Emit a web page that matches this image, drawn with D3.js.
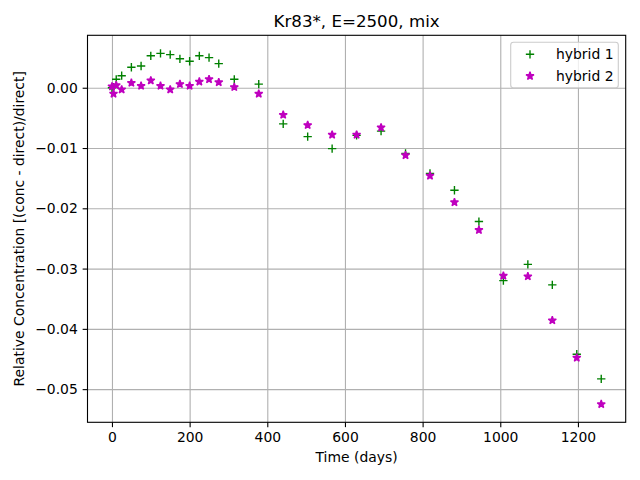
<!DOCTYPE html>
<html>
<head>
<meta charset="utf-8">
<script src="https://cdn.jsdelivr.net/npm/d3@7"></script>
<style>
  body { margin: 0; background: #ffffff; }
  svg { font-family: "DejaVu Sans", sans-serif; }
</style>
</head>
<body>
<svg id="chart" width="640" height="480"></svg>
<script>
    // data
    const days = [0, 4, 11, 25, 50, 75, 100, 125, 150, 175, 200, 225, 250, 275, 315,
        378, 441, 504, 567, 630, 693, 756, 819, 882, 945, 1008, 1071, 1134, 1197, 1260];
    const hybrid1 = [0.0000, 0.0001, 0.0014, 0.0020, 0.0034, 0.0036, 0.0053, 0.0057, 0.0055, 0.0048,
        0.0044, 0.0053, 0.0050, 0.0040, 0.0014, 0.0006, -0.0060, -0.0081, -0.0101, -0.0079,
        -0.0072, -0.0109, -0.0142, -0.0170, -0.0222, -0.0320, -0.0293, -0.0327, -0.0442, -0.0483];
    const hybrid2 = [0.0002, -0.0010, 0.0004, -0.0003, 0.0008, 0.0003, 0.0012, 0.0003, -0.0003, 0.0006,
        0.0003, 0.0010, 0.0014, 0.0009, 0.0001, -0.0010, -0.0045, -0.0062, -0.0078, -0.0078,
        -0.0066, -0.0112, -0.0146, -0.0190, -0.0236, -0.0312, -0.0313, -0.0386, -0.0448, -0.0525];
    const xTicks = [0, 200, 400, 600, 800, 1000, 1200];
    const yTicks = [0, -0.01, -0.02, -0.03, -0.04, -0.05];
    const seriesNames = ["hybrid 1", "hybrid 2"];

    const green = "#008000";
    const magenta = "#bf00bf";
    const gridColor = "#b0b0b0";
    const fontSize = "13.9px";

    const axLeft = 87.5, axRight = 625.7, axTop = 35.3, axBottom = 422.3;
    const tickLen = 4.86;

    const svg = d3.select("#chart");
    svg.append("rect").attr("width", 640).attr("height", 480).attr("fill", "#ffffff");

    const x = d3.scaleLinear().domain([-63, 1323]).range([axLeft, axRight]);
    const y = d3.scaleLinear().domain([-0.0555, 0.0087]).range([axBottom, axTop]);

    // grid
    svg.append("g")
        .attr("transform", "translate(0," + axBottom + ")")
        .call(d3.axisBottom(x).tickValues(xTicks).tickSize(-(axBottom - axTop)).tickFormat(""))
        .call(g => g.select(".domain").remove())
        .selectAll("line").attr("stroke", gridColor).attr("stroke-width", 1.1);
    svg.append("g")
        .attr("transform", "translate(" + axLeft + ",0)")
        .call(d3.axisLeft(y).tickValues(yTicks).tickSize(-(axRight - axLeft)).tickFormat(""))
        .call(g => g.select(".domain").remove())
        .selectAll("line").attr("stroke", gridColor).attr("stroke-width", 1.1);

    // hybrid 1 : green plus markers
    svg.append("g").selectAll("path")
        .data(days.map((d, i) => [d, hybrid1[i]]))
        .join("path")
        .attr("transform", d => "translate(" + x(d[0]) + "," + y(d[1]) + ")")
        .attr("d", "M-4.17,0H4.17M0,-4.17V4.17")
        .attr("fill", "none")
        .attr("stroke", green)
        .attr("stroke-width", 1.39);

    // hybrid 2 : magenta star markers (bevel joins like matplotlib '*')
    const star = d3.symbol().type(d3.symbolStar).size(19.5);
    svg.append("g").selectAll("path")
        .data(days.map((d, i) => [d, hybrid2[i]]))
        .join("path")
        .attr("transform", d => "translate(" + x(d[0]) + "," + y(d[1]) + ")")
        .attr("d", star)
        .attr("fill", magenta)
        .attr("stroke", magenta)
        .attr("stroke-width", 1.39)
        .attr("stroke-linejoin", "bevel");

    // axes
    const xAxis = svg.append("g")
        .attr("transform", "translate(0," + axBottom + ")")
        .call(d3.axisBottom(x).tickValues(xTicks).tickSize(tickLen).tickPadding(4.86).tickFormat(d3.format("d")));
    const yAxis = svg.append("g")
        .attr("transform", "translate(" + axLeft + ",0)")
        .call(d3.axisLeft(y).tickValues(yTicks).tickSize(tickLen).tickPadding(4.86).tickFormat(d3.format(".2f")));
    [xAxis, yAxis].forEach(a => {
        a.select(".domain").remove();
        a.selectAll("line").attr("stroke", "#000").attr("stroke-width", 1.1);
        a.selectAll("text").attr("fill", "#000").style("font-size", fontSize)
            .style("font-family", "DejaVu Sans");
    });

    // spines
    svg.append("rect")
        .attr("x", axLeft).attr("y", axTop)
        .attr("width", axRight - axLeft).attr("height", axBottom - axTop)
        .attr("fill", "none").attr("stroke", "#000").attr("stroke-width", 1.1);

    // labels
    svg.append("text")
        .attr("x", (axLeft + axRight) / 2).attr("y", 27)
        .attr("text-anchor", "middle")
        .style("font-size", "16.67px")
        .text("Kr83*, E=2500, mix");
    svg.append("text")
        .attr("x", (axLeft + axRight) / 2).attr("y", 462)
        .attr("text-anchor", "middle")
        .style("font-size", fontSize)
        .text("Time (days)");
    svg.append("text")
        .attr("transform", "translate(24," + ((axTop + axBottom) / 2) + ") rotate(-90)")
        .attr("text-anchor", "middle")
        .style("font-size", fontSize)
        .text("Relative Concentration [(conc - direct)/direct]");

    // legend
    const legend = svg.append("g");
    legend.append("rect")
        .attr("x", 510.7).attr("y", 42.3)
        .attr("width", 107.6).attr("height", 45.4)
        .attr("rx", 2.8)
        .attr("fill", "#ffffff").attr("fill-opacity", 0.8)
        .attr("stroke", "#cccccc").attr("stroke-width", 1.1);
    legend.append("path")
        .attr("transform", "translate(530,54.3)")
        .attr("d", "M-4.17,0H4.17M0,-4.17V4.17")
        .attr("fill", "none").attr("stroke", green).attr("stroke-width", 1.39);
    legend.append("path")
        .attr("transform", "translate(530,76)")
        .attr("d", star)
        .attr("fill", magenta).attr("stroke", magenta).attr("stroke-width", 1.39)
        .attr("stroke-linejoin", "bevel");
    legend.selectAll("text.lbl")
        .data(seriesNames)
        .join("text")
        .attr("class", "lbl")
        .attr("x", 556)
        .attr("y", (d, i) => 59.3 + i * 21.7)
        .style("font-size", fontSize)
        .text(d => d);
</script>
</body>
</html>
